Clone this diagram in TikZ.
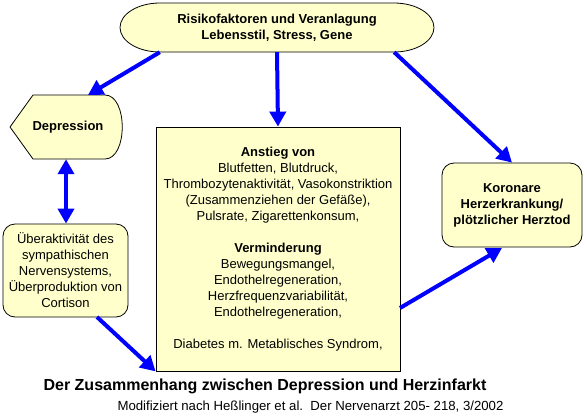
\documentclass[tikz,border=0pt]{standalone}
\usepackage{fontspec}
\setmainfont{Liberation Sans}
\usepackage{xcolor}
\usepackage{tikz}
\usetikzlibrary{arrows.meta,positioning}
\definecolor{paleyellow}{RGB}{255,255,204}
\definecolor{flowblue}{RGB}{0,0,255}

\begin{document}
\begin{tikzpicture}[x=1pt, y=-1pt,
    box/.style={draw=black, fill=paleyellow, line width=0.8pt, align=center, inner sep=0pt,
        font=\fontsize{13}{16}\selectfont},
    boldbox/.style={box, font=\fontsize{13}{16}\selectfont\bfseries},
    flow/.style={-{Triangle[length=15pt,width=16pt]}, line width=4pt, flowblue},
    bothflow/.style={{Triangle[length=15pt,width=16pt]}-{Triangle[length=15pt,width=16pt]}, line width=4pt, flowblue}]
    \useasboundingbox (0,0) rectangle (587,416);

    % Risk factors (elongated ellipse)
    \draw[fill=paleyellow, line width=0.8pt] (160,3) -- (394,3)
        arc[start angle=90, end angle=-90, x radius=40pt, y radius=24.5pt] -- (160,52)
        arc[start angle=270, end angle=90, x radius=40pt, y radius=24.5pt] -- cycle;
    \node[align=center, font=\fontsize{13}{16}\selectfont\bfseries, minimum width=234pt, minimum height=49pt, inner sep=0pt] (risk) at (277,27.5)
        {Risikofaktoren und Veranlagung\\ Lebensstil, Stress, Gene};

    % Depression (display shape)
    \draw[fill=paleyellow, line width=0.8pt] (10,127) -- (33,95) -- (105,95)
        .. controls (128,95) and (128,159) .. (105,159) -- (33,159) -- cycle;
    \node[font=\fontsize{13}{16}\selectfont\bfseries, minimum width=112pt, minimum height=64pt, inner sep=0pt] (depr) at (66,127) {\hspace{4pt}Depression};
    \coordinate (deprtop) at (88,95);

    % Sympathetic overactivity
    \node[box, rounded corners=12pt, minimum width=125pt, minimum height=93pt] (ueber) at (65.5,270.5)
        {Überaktivität des\\ sympathischen\\ Nervensystems,\\ Überproduktion von\\ Cortison};
    \coordinate (ueberout) at (97,317);

    % Central box
    \node[box, minimum width=244pt, minimum height=244pt] (anstieg) at (278,249)
        {\textbf{Anstieg von}\\ Blutfetten, Blutdruck,\\ Thrombozytenaktivität, Vasokonstriktion\\
         (Zusammenziehen der Gefäße),\\ Pulsrate, Zigarettenkonsum,\\[16pt]
         \textbf{Verminderung}\\ Bewegungsmangel,\\ Endothelregeneration,\\
         Herzfrequenzvariabilität,\\ Endothelregeneration,\\[16pt]
         Diabetes m. Metablisches Syndrom,};
    \coordinate (anstiegout) at (400,308);

    % Coronary heart disease
    \node[boldbox, rounded corners=12pt, minimum width=140pt, minimum height=84pt] (koronar) at (512,205)
        {Koronare\\ Herzerkrankung/\\ plötzlicher Herztod};
    \coordinate (koronarin) at (502,248);

    % Arrows
    \draw[flow] (risk.south west) -- (deprtop);
    \draw[flow] (risk.south) -- (anstieg.north);
    \draw[flow] (risk.south east) -- (koronar.north);
    \draw[bothflow] (depr.south) -- (depr.south |- ueber.north);
    \draw[flow] (ueberout) -- (anstieg.south west);
    \draw[flow] (anstiegout) -- (koronarin);

    % Caption
    \node[font=\fontsize{16}{19}\selectfont\bfseries] (title) at (265,386)
        {Der Zusammenhang zwischen Depression und Herzinfarkt};
    \node[font=\fontsize{13.2}{15}\selectfont] (source) at (310.5,407.5)
        {Modifiziert nach Heßlinger et al.\ \ Der Nervenarzt 205- 218, 3/2002};
\end{tikzpicture}
\end{document}
